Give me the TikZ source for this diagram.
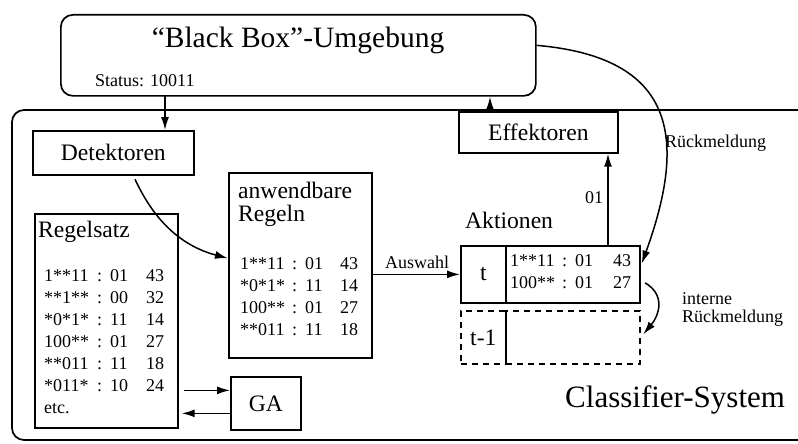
\documentclass[tikz,border=0pt]{standalone}
\usepackage{fontspec}
\setmainfont{Liberation Serif}
\usetikzlibrary{arrows.meta, calc}
\newcommand{\titelschrift}{\fontsize{29.5}{33}\selectfont}
\newcommand{\systemschrift}{\fontsize{31}{35}\selectfont}
\newcommand{\grossschrift}{\fontsize{23.6}{27}\selectfont}
\newcommand{\kleinschrift}{\fontsize{18}{21}\selectfont}
\tikzset{
    kasten/.style={rectangle, draw, line width=1.7pt, inner sep=0pt, anchor=north west, font=\grossschrift},
    strichkasten/.style={kasten, dash pattern=on 6pt off 5pt},
    rahmen/.style={line width=1.7pt, rounded corners=12pt},
    pfeil/.style={-{Latex[length=13pt, width=8pt]}, line width=1.5pt},
    zeile/.style={anchor=base west, inner sep=0pt, font=\kleinschrift},
    titel/.style={anchor=base west, inner sep=0pt, font=\grossschrift}
}
\begin{document}
\begin{tikzpicture}[x=1pt, y=-1pt]
    \useasboundingbox (0,0) rectangle (798,444);

    % --- UMGEBUNG ---
    \node[kasten, rounded corners=12pt, minimum width=475pt, minimum height=81pt] (umgebung) at (60,14) {};
    \node[anchor=base, inner sep=0pt, font=\titelschrift] (umgtitel) at (298,48) {``Black Box''-Umgebung};
    \node[zeile] (status) at (95,87) {Status: 10011};

    % --- CLASSIFIER-SYSTEM ---
    \draw[rahmen] (798,110) -- (12,110) -- (12,440) -- (798,440);
    \node[anchor=base west, inner sep=0pt, font=\systemschrift] (system) at (565,407) {Classifier-System};

    \node[kasten, minimum width=161pt, minimum height=44pt] (detektoren) at (32,130) {Detektoren};
    \node[kasten, minimum width=159pt, minimum height=41pt] (effektoren) at (458,111) {Effektoren};

    % --- REGELSATZ ---
    \node[kasten, minimum width=143pt, minimum height=214pt] (regelsatz) at (34,213) {};
    \node[titel] (rstitel) at (38,237) {Regelsatz};
    \foreach \muster/\aktion/\staerke [count=\i] in {1**11/01/43, **1**/00/32, *0*1*/11/14, 100**/01/27, **011/11/18, *011*/10/24} {
        \node[zeile] (rs-\i-m) at (44, 259+22*\i) {\muster};
        \node[zeile] (rs-\i-d) at (97, 259+22*\i) {:};
        \node[zeile] (rs-\i-a) at (110, 259+22*\i) {\aktion};
        \node[zeile] (rs-\i-s) at (146, 259+22*\i) {\staerke};
    }
    \node[zeile] (rsetc) at (44,413) {etc.};

    % --- ANWENDBARE REGELN ---
    \node[kasten, minimum width=143pt, minimum height=185pt] (anwendbar) at (228,172) {};
    \node[titel] (awtitel1) at (238,198) {anwendbare};
    \node[titel] (awtitel2) at (238,221) {Regeln};
    \foreach \muster/\aktion/\staerke [count=\i] in {1**11/01/43, *0*1*/11/14, 100**/01/27, **011/11/18} {
        \node[zeile] (aw-\i-m) at (240, 247+22*\i) {\muster};
        \node[zeile] (aw-\i-d) at (292, 247+22*\i) {:};
        \node[zeile] (aw-\i-a) at (305, 247+22*\i) {\aktion};
        \node[zeile] (aw-\i-s) at (340, 247+22*\i) {\staerke};
    }

    % --- AKTIONEN ---
    \node[titel] (aktionen) at (465,228) {Aktionen};
    \node[kasten, minimum width=45pt, minimum height=57pt] (tfeld) at (460,245) {t};
    \node[kasten, minimum width=134pt, minimum height=57pt] (tliste) at (505,245) {};
    \foreach \muster/\aktion/\staerke [count=\i] in {1**11/01/43, 100**/01/27} {
        \node[zeile] (ak-\i-m) at (510, 244+22*\i) {\muster};
        \node[zeile] (ak-\i-d) at (562, 244+22*\i) {:};
        \node[zeile] (ak-\i-a) at (575, 244+22*\i) {\aktion};
        \node[zeile] (ak-\i-s) at (613, 244+22*\i) {\staerke};
    }
    \node[strichkasten, minimum width=45pt, minimum height=53pt] (tmfeld) at (460,310) {t-1};
    \node[strichkasten, minimum width=134pt, minimum height=53pt] (tmliste) at (505,310) {};

    % --- GA ---
    \node[kasten, minimum width=70pt, minimum height=53pt] (ga) at (230,376) {GA};

    % --- VERBINDUNGEN ---
    \coordinate (statusfuss) at (165,95);
    \draw[pfeil] (statusfuss) -- (statusfuss |- detektoren.north);
    \coordinate (effaus) at (490,111);
    \draw[pfeil] (effaus) -- (effaus |- umgebung.south);
    \coordinate (taus) at (608,245);
    \draw[pfeil] (taus) -- (taus |- effektoren.south);
    \node[zeile] (nullzwei) at (585,203) {01};

    \draw[pfeil, shorten <=4pt] ([xshift=20pt]detektoren.south) to[out=-65, in=165] ([yshift=7pt]anwendbar.west);
    \draw[pfeil] (anwendbar.east |- tfeld.west) -- (tfeld.west);
    \node[zeile] (auswahl) at (385,268) {Auswahl};

    \draw[pfeil, shorten >=3pt] ([yshift=10pt]umgebung.east) to[out=-5, in=70, looseness=1.45] ([yshift=8pt]tliste.east);
    \node[zeile] (rueck) at (665,147) {Rückmeldung};

    \draw[pfeil, shorten <=5pt, shorten >=4pt] ([yshift=-6pt]tliste.east) to[out=-30, in=50, looseness=1.3] (tmliste.east);
    \node[zeile] (intern1) at (682,304) {interne};
    \node[zeile] (intern2) at (682,322) {Rückmeldung};

    \coordinate (gaein) at ([yshift=13pt]ga.west);
    \coordinate (gaaus) at ([yshift=-10pt]ga.west);
    \draw[pfeil, shorten <=5pt] (regelsatz.east |- gaein) -- (gaein);
    \draw[pfeil, shorten >=3pt] (gaaus) -- (regelsatz.east |- gaaus);

\end{tikzpicture}
\end{document}
